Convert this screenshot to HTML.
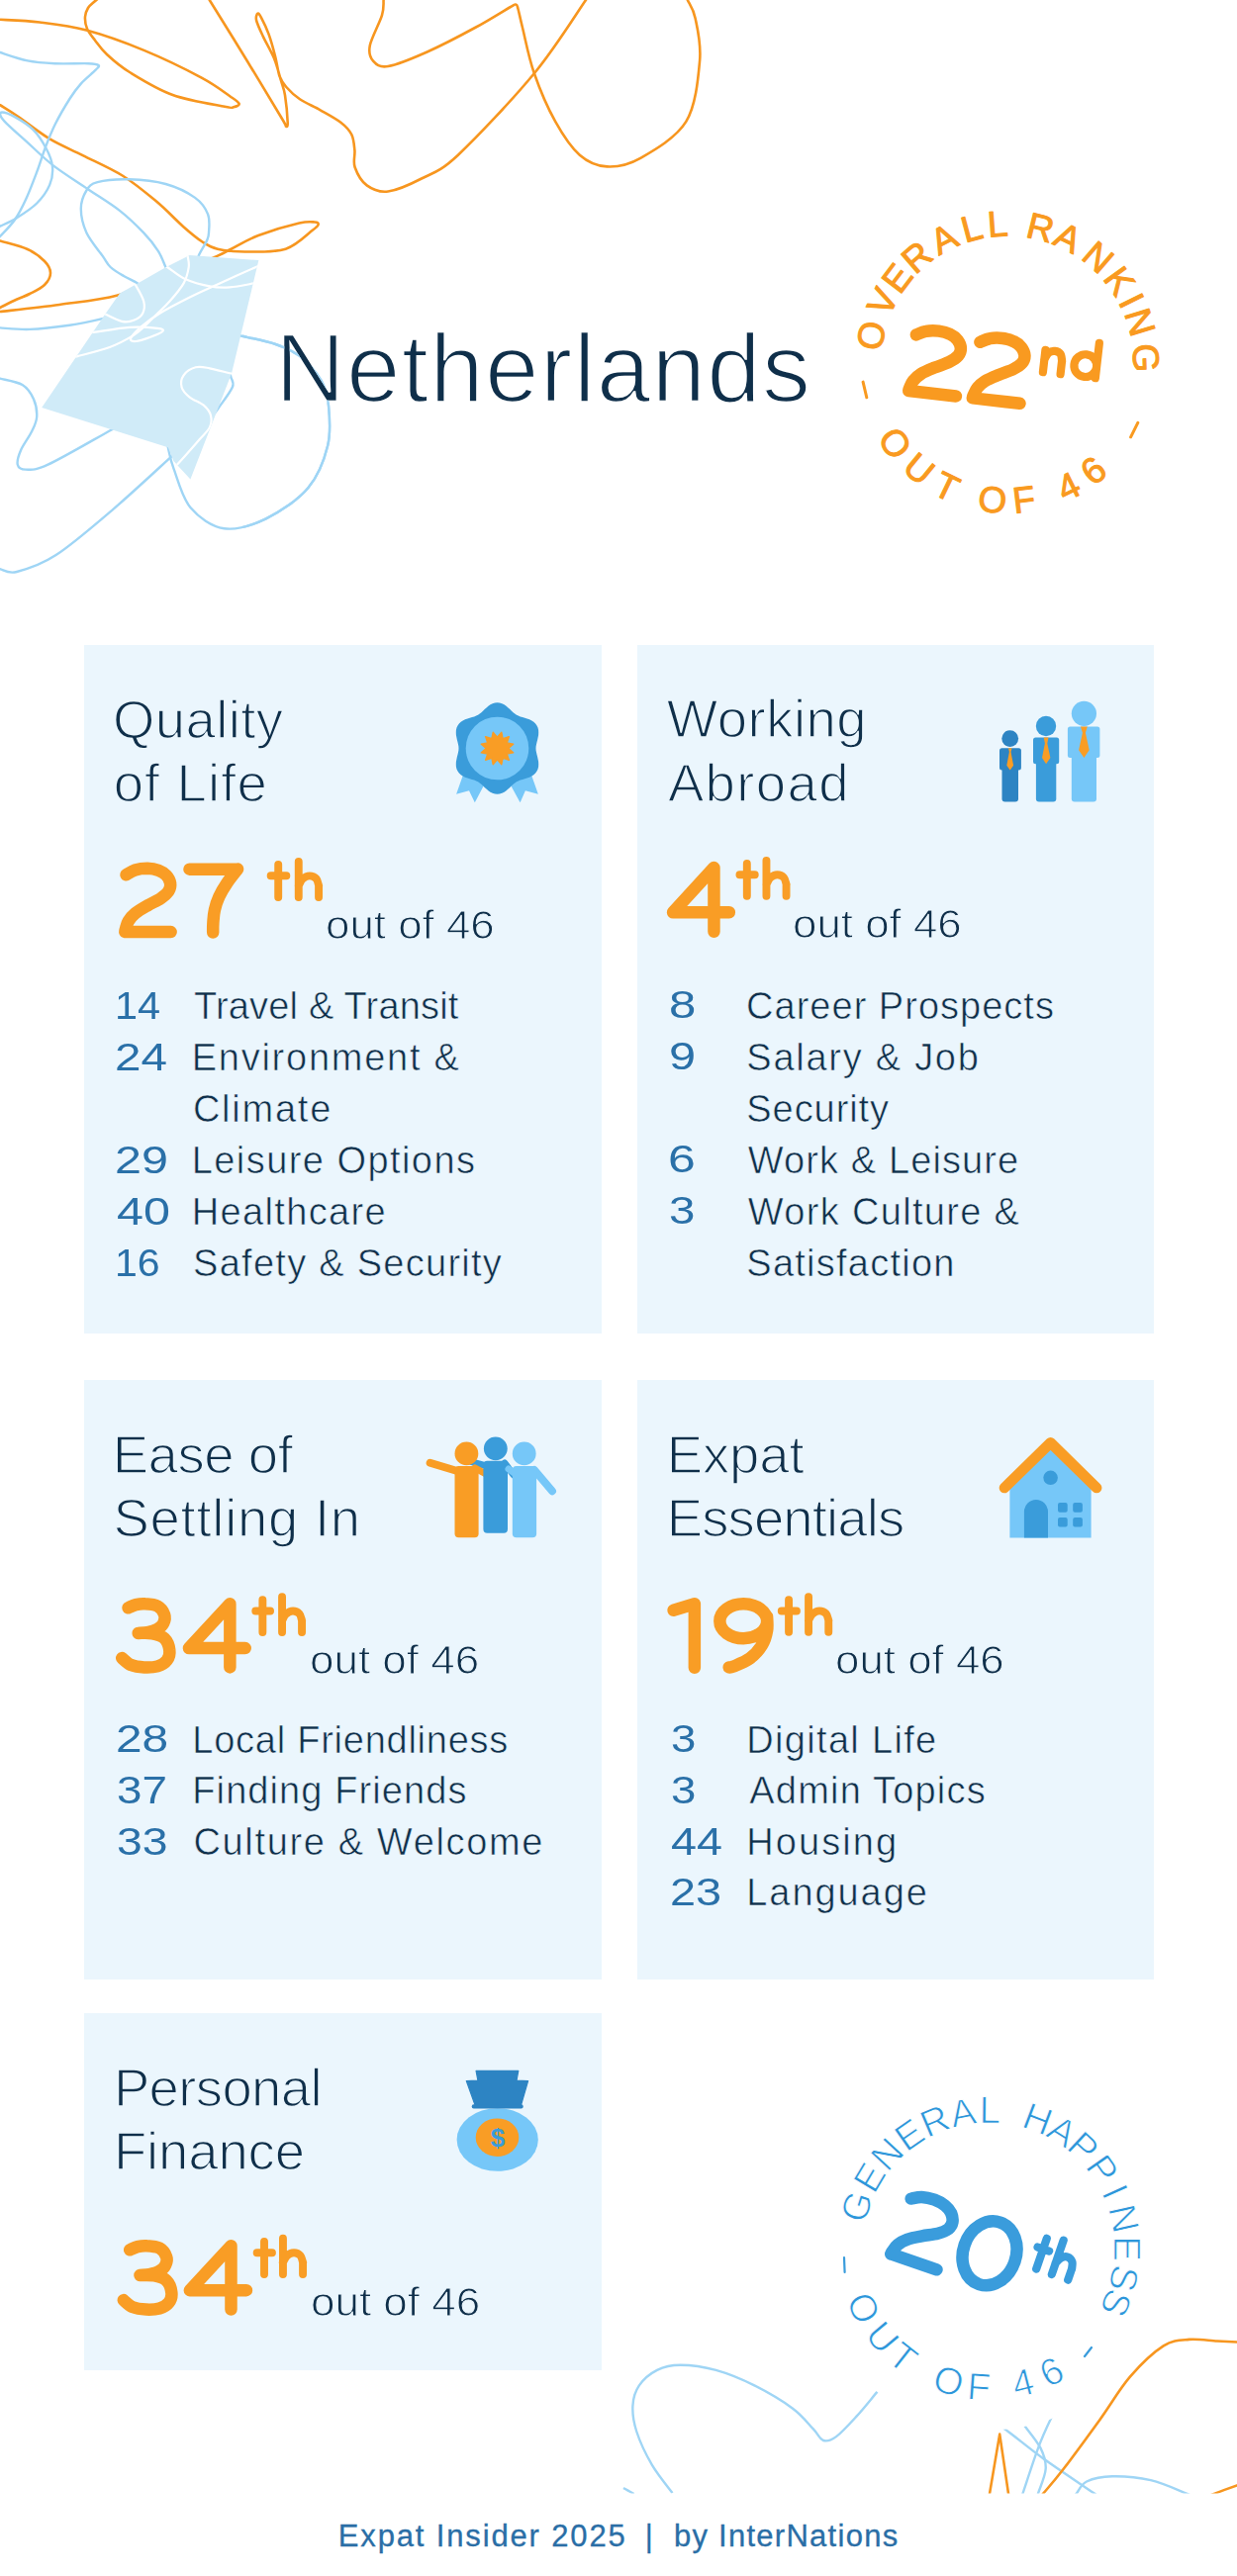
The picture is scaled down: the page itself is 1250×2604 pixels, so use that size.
<!DOCTYPE html>
<html><head><meta charset="utf-8"><style>
html,body{margin:0;padding:0}
body{width:1250px;height:2604px;background:#fff;position:relative;overflow:hidden;font-family:"Liberation Sans",sans-serif}
.t{position:absolute;white-space:pre;line-height:1}
.card{position:absolute;background:#ebf6fd}
svg{position:absolute;overflow:visible}
</style></head><body>

<svg style="left:0;top:0" width="1250" height="2604" viewBox="0 0 1250 2604">
<defs><clipPath id="pc"><path d="M191.7,258.1 L261.4,263.1 L234.1,377.3 L192.4,484.4 L175.4,466.0 L169.8,452.2 L42.2,412.0 L106.8,316.7 L121.0,296.5 L139.1,286.4 L167.4,270.2Z"/></clipPath>
<clipPath id="bc"><rect x="0" y="2300" width="1250" height="220.5"/></clipPath></defs>
<path d="M0.0,19.8 C6.7,20.2 25.5,20.7 40.0,22.5 C54.5,24.3 69.7,25.9 87.3,30.6 C104.9,35.3 126.1,42.9 145.5,50.9 C164.9,58.9 189.3,70.9 203.7,78.6 C218.1,86.3 225.7,92.6 232.0,97.0 C238.3,101.4 240.9,102.9 241.6,104.8 C242.3,106.7 238.4,107.7 236.0,108.2 C233.6,108.7 237.2,109.7 227.0,107.7 C216.8,105.7 190.6,101.8 174.6,96.0 C158.6,90.2 142.1,79.8 131.0,73.0 C119.9,66.2 113.8,60.4 108.0,55.0 C102.2,49.6 99.3,45.0 96.0,40.7 C92.7,36.4 89.7,33.0 88.0,29.0 C86.3,25.1 85.8,20.5 86.0,17.0 C86.2,13.5 87.5,10.5 89.0,8.0 C90.5,5.5 93.0,3.8 95.0,2.0 C97.0,0.2 100.0,-2.2 101.0,-3.0" fill="none" stroke="#f7961f" stroke-width="2.6"/>
<path d="M-3.0,104.0 C-2.5,104.4 -3.6,103.9 0.0,106.2 C3.6,108.5 10.2,112.4 18.6,118.1 C27.0,123.8 39.4,133.9 50.2,140.4 C61.1,146.9 71.5,150.9 83.7,157.1 C96.0,163.3 111.3,169.8 123.7,177.5 C136.1,185.2 147.6,194.9 158.0,203.6 C168.4,212.3 178.2,222.9 185.9,229.7 C193.7,236.5 198.8,240.8 204.5,244.5 C210.2,248.2 212.8,250.0 219.9,251.7 C227.1,253.4 235.9,254.5 247.4,254.5 C258.9,254.5 277.2,255.4 288.6,251.7 C300.1,248.0 310.6,236.6 316.1,232.5 C321.6,228.4 321.3,228.3 321.6,227.0 C321.9,225.7 321.2,224.7 318.0,224.5 C314.8,224.3 311.9,223.3 302.4,225.6 C292.9,227.8 272.6,233.7 261.1,238.0 C249.6,242.3 240.5,248.3 233.6,251.7 C226.7,255.1 229.7,254.2 219.9,258.6 C210.1,263.0 191.8,271.4 175.0,278.0 C158.2,284.6 138.1,293.5 118.9,298.5 C99.7,303.5 79.8,305.2 60.0,308.0 C40.2,310.8 10.5,313.8 0.0,315.0 C-10.5,316.2 -2.5,315.4 -3.0,315.5" fill="none" stroke="#f7961f" stroke-width="2.6"/>
<path d="M-3.0,242.5 C-2.5,242.7 -5.1,241.9 0.0,243.5 C5.1,245.1 20.4,248.6 27.9,252.0 C35.4,255.4 41.1,260.0 45.0,264.0 C48.9,268.0 51.0,272.0 51.0,276.0 C51.0,280.0 48.5,284.5 45.0,288.0 C41.5,291.5 35.2,294.3 30.0,297.0 C24.8,299.7 19.0,301.7 14.0,304.0 C9.0,306.3 2.8,309.7 0.0,311.0 C-2.8,312.3 -2.5,311.8 -3.0,312.0" fill="none" stroke="#f7961f" stroke-width="2.6"/>
<path d="M210.0,-3.0 C210.3,-2.5 205.0,-10.8 211.7,0.0 C218.4,10.8 237.8,42.0 250.0,62.0 C262.2,82.0 278.5,109.1 285.0,120.0 C291.5,130.9 288.1,126.9 289.0,127.5 C289.9,128.1 290.9,128.9 290.7,123.7 C290.5,118.5 289.1,103.3 288.0,96.2 C286.9,89.1 285.6,87.2 283.8,81.0 C282.0,74.8 280.0,66.3 277.0,59.0 C274.0,51.7 269.0,43.5 266.0,37.1 C263.0,30.7 260.0,24.5 259.1,20.6 C258.2,16.7 259.7,14.2 260.5,13.7 C261.3,13.2 262.2,14.4 264.0,17.9 C265.8,21.3 269.1,27.8 271.5,34.4 C273.9,41.0 276.5,50.6 278.3,57.7 C280.1,64.8 280.7,72.0 282.5,77.0 C284.3,82.0 285.9,84.1 289.3,88.0 C292.7,91.9 297.3,96.4 303.0,100.3 C308.7,104.2 316.8,107.4 323.7,111.3 C330.6,115.2 339.0,119.6 344.3,123.7 C349.6,127.8 353.0,131.3 355.3,136.0 C357.6,140.7 357.8,146.5 358.4,152.0 C358.9,157.5 356.6,163.1 358.6,169.0 C360.7,174.9 365.1,183.3 370.7,187.4 C376.3,191.5 383.0,194.7 392.2,193.5 C401.4,192.3 414.2,186.6 426.0,180.5 C437.8,174.4 443.9,174.4 462.9,156.7 C481.9,138.9 518.5,100.1 540.0,74.0 C561.5,47.9 583.0,12.8 592.0,0.0 C601.0,-12.8 593.7,-2.5 594.0,-3.0" fill="none" stroke="#f7961f" stroke-width="2.6"/>
<path d="M388.0,-3.0 C387.9,-2.5 387.9,-3.1 387.6,0.0 C387.3,3.1 388.3,7.7 386.0,15.4 C383.7,23.1 375.3,38.3 373.8,46.0 C372.3,53.7 373.8,57.9 376.9,61.4 C380.0,64.9 383.0,68.5 392.2,67.0 C401.4,65.5 417.6,58.7 432.2,52.2 C446.8,45.7 466.2,35.5 480.0,28.0 C493.8,20.6 508.1,11.4 515.0,7.5 C521.9,3.6 519.9,4.3 521.3,4.6 C522.7,4.8 522.4,5.1 523.5,9.0 C524.6,12.9 525.3,17.2 528.0,28.0 C530.7,38.8 534.2,57.9 539.7,73.7 C545.2,89.5 553.5,109.1 561.2,122.9 C568.9,136.7 577.1,149.1 585.8,156.7 C594.5,164.3 603.2,167.9 613.4,168.4 C623.6,168.9 633.9,167.4 647.2,159.8 C660.5,152.2 683.3,139.3 693.3,122.9 C703.3,106.5 705.5,78.8 707.1,61.4 C708.7,44.0 704.7,28.6 702.6,18.4 C700.5,8.2 696.3,3.6 694.8,0.0 C693.3,-3.6 693.7,-2.5 693.5,-3.0" fill="none" stroke="#f7961f" stroke-width="2.6"/>
<path d="M-3.0,52.0 C-2.5,52.2 -5.1,51.4 0.0,53.0 C5.1,54.6 18.6,59.5 27.9,61.4 C37.2,63.3 45.6,63.7 55.8,64.2 C66.0,64.7 82.0,63.9 89.3,64.2 C96.6,64.5 98.3,64.9 99.5,66.0 C100.7,67.1 99.7,67.6 96.7,70.7 C93.8,73.8 86.1,79.8 81.8,84.6 C77.5,89.4 75.0,92.7 70.7,99.5 C66.4,106.3 60.0,117.1 55.8,125.5 C51.6,133.9 48.7,141.6 45.6,149.7 C42.5,157.8 40.5,165.2 37.2,173.9 C33.9,182.6 29.7,193.8 26.0,201.8 C22.3,209.9 19.2,216.0 14.9,222.2 C10.6,228.4 3.0,235.7 0.0,239.0 C-3.0,242.3 -2.5,241.5 -3.0,242.0" fill="none" stroke="#9fd5f5" stroke-width="2.4"/>
<path d="M-3.0,230.0 C-2.5,229.8 -3.3,230.3 0.0,228.7 C3.3,227.1 10.5,224.3 16.7,220.4 C22.9,216.5 31.6,211.1 37.2,205.5 C42.8,199.9 47.6,193.1 50.2,186.9 C52.8,180.7 53.6,174.5 53.0,168.3 C52.4,162.1 49.8,155.9 46.5,149.7 C43.2,143.5 38.8,136.4 33.5,131.1 C28.2,125.8 20.1,121.0 14.9,118.1 C9.7,115.2 4.3,113.5 2.0,113.5 C-0.3,113.5 -0.2,115.7 1.0,118.0 C2.2,120.3 4.8,123.1 9.3,127.4 C13.8,131.8 20.5,137.4 27.9,144.1 C35.3,150.8 43.7,159.5 53.9,167.4 C64.1,175.3 78.1,183.9 89.3,191.5 C100.5,199.1 111.6,205.6 120.9,212.9 C130.2,220.2 138.5,228.4 145.0,235.2 C151.5,242.0 156.2,248.0 159.9,253.8 C163.6,259.6 165.7,266.5 167.4,270.0 C169.1,273.5 169.6,274.2 170.0,275.0" fill="none" stroke="#9fd5f5" stroke-width="2.4"/>
<path d="M203.0,262.0 C202.6,261.4 199.7,261.7 200.7,258.6 C201.7,255.5 207.2,247.4 208.9,243.5 C210.6,239.6 210.8,239.7 211.0,235.2 C211.2,230.7 212.4,222.5 210.1,216.6 C207.8,210.7 204.2,205.0 197.1,199.9 C190.0,194.8 178.6,189.1 167.4,186.0 C156.2,182.9 141.7,181.6 130.2,181.3 C118.7,181.0 105.6,182.2 98.5,184.1 C91.4,186.0 90.2,188.0 87.4,192.5 C84.6,197.0 81.8,204.0 81.8,211.1 C81.8,218.2 83.7,227.1 87.4,235.2 C91.1,243.2 100.1,253.6 104.1,259.4 C108.1,265.2 108.1,266.7 111.6,270.0 C115.1,273.3 120.4,276.3 125.0,279.0 C129.6,281.7 135.8,284.2 139.1,286.4 C142.4,288.6 144.0,291.1 145.0,292.0" fill="none" stroke="#9fd5f5" stroke-width="2.4"/>
<path d="M-3.0,331.3 C-2.5,331.3 -5.5,331.1 0.0,331.4 C5.5,331.7 18.3,333.3 30.0,332.9 C41.7,332.5 58.0,330.6 70.4,328.8 C82.8,327.0 97.1,323.6 104.5,321.8 C111.9,320.0 113.2,318.6 115.0,318.0" fill="none" stroke="#9fd5f5" stroke-width="2.4"/>
<path d="M-3.0,382.0 C-2.5,382.1 -4.3,381.4 0.0,382.6 C4.3,383.8 16.9,385.5 22.6,389.0 C28.3,392.5 31.6,398.0 34.0,403.4 C36.4,408.8 37.5,415.8 37.2,421.2 C36.9,426.6 35.0,430.1 32.3,435.8 C29.6,441.5 23.4,449.6 21.0,455.2 C18.6,460.8 17.0,466.5 17.8,469.7 C18.6,472.9 20.8,474.6 25.9,474.6 C31.0,474.6 33.9,476.4 48.5,469.7 C63.1,463.0 98.0,442.5 113.2,434.2 C128.4,425.9 135.5,422.4 140.0,420.0" fill="none" stroke="#9fd5f5" stroke-width="2.4"/>
<path d="M-3.0,575.0 C-2.5,575.0 -3.3,574.7 0.0,575.2 C3.3,575.7 7.6,580.4 17.0,578.0 C26.4,575.6 40.6,571.5 56.6,561.1 C72.6,550.7 93.9,532.3 113.2,515.8 C132.5,499.3 161.5,472.2 172.6,462.1 C183.7,452.0 178.8,456.2 180.0,455.0" fill="none" stroke="#9fd5f5" stroke-width="2.4"/>
<path d="M235.0,338.0 C236.4,338.2 236.1,337.8 243.3,339.5 C250.6,341.2 268.6,344.6 278.5,348.0 C288.4,351.4 295.1,354.1 302.8,360.1 C310.5,366.2 319.7,376.0 324.6,384.3 C329.5,392.6 330.9,398.9 332.0,410.0 C333.1,421.1 334.6,436.8 331.1,450.7 C327.7,464.6 321.7,480.9 311.3,493.2 C300.9,505.5 282.9,517.5 268.8,524.3 C254.7,531.1 239.1,536.1 226.4,534.2 C213.7,532.3 200.9,523.1 192.4,513.0 C183.9,502.9 179.2,483.5 175.4,473.4 C171.6,463.3 171.0,456.9 169.8,452.2 C168.6,447.5 168.3,446.2 168.0,445.0" fill="none" stroke="#9fd5f5" stroke-width="2.4"/>
<path d="M215.0,420.0 C215.9,418.8 217.4,417.3 220.7,412.5 C224.0,407.7 232.8,396.5 234.9,391.3 C237.0,386.1 233.9,383.8 233.4,381.4 C232.9,379.0 232.2,377.7 232.0,377.0" fill="none" stroke="#9fd5f5" stroke-width="2.4"/>
<path d="M191.7,258.1 L261.4,263.1 L234.1,377.3 L192.4,484.4 L175.4,466.0 L169.8,452.2 L42.2,412.0 L106.8,316.7 L121.0,296.5 L139.1,286.4 L167.4,270.2Z" fill="#d0ebf8"/>
<g clip-path="url(#pc)">
<path d="M167.4,270.0 C167.7,270.0 166.0,268.1 169.4,270.2 C172.8,272.2 180.5,279.1 187.6,282.3 C194.7,285.5 204.5,288.0 211.9,289.4 C219.3,290.8 224.7,290.9 232.1,290.4 C239.5,289.9 251.4,287.3 256.4,286.4 C261.4,285.5 261.1,285.2 262.0,285.0" fill="none" stroke="#fff" stroke-width="2.2"/>
<path d="M189.0,256.0 C189.1,256.5 189.4,256.7 189.7,259.1 C190.0,261.5 191.4,265.6 190.7,270.2 C190.0,274.8 188.8,280.7 185.6,286.4 C182.4,292.1 175.9,299.6 171.5,304.6 C167.1,309.7 163.4,312.7 159.3,316.7 C155.2,320.7 151.2,325.1 147.2,328.8 C143.2,332.5 141.2,335.2 135.1,338.9 C129.0,342.6 120.2,347.5 110.8,351.0 C101.4,354.5 85.3,358.3 78.5,360.1 C71.7,361.9 71.4,361.7 70.0,362.0" fill="none" stroke="#fff" stroke-width="2.2"/>
<path d="M265.0,267.0 C264.2,267.4 267.6,266.0 260.4,269.2 C253.2,272.4 233.4,281.2 222.0,286.4 C210.6,291.6 201.8,295.4 191.7,300.5 C181.6,305.6 169.5,311.8 161.4,316.7 C153.3,321.6 148.1,325.6 143.2,329.8 C138.3,334.0 133.1,339.5 132.1,342.0 C131.1,344.5 133.9,345.2 137.1,345.0 C140.3,344.8 146.8,342.7 151.3,341.0 C155.9,339.3 163.1,336.4 164.4,334.9 C165.7,333.4 164.9,332.6 159.3,331.9 C153.7,331.2 141.8,330.1 131.0,330.8 C120.2,331.5 102.4,334.9 94.7,335.9 C87.0,336.9 86.6,336.8 85.0,337.0" fill="none" stroke="#fff" stroke-width="2.2"/>
<path d="M133.0,284.0 C133.7,284.7 135.1,285.0 137.1,288.4 C139.1,291.8 144.0,299.9 145.2,304.6 C146.4,309.3 145.9,313.5 144.2,316.7 C142.5,319.9 138.6,322.4 135.1,323.8 C131.6,325.2 127.7,325.8 123.0,324.8 C118.3,323.8 110.6,319.5 106.8,317.7 C103.0,315.9 101.1,314.6 100.0,314.0" fill="none" stroke="#fff" stroke-width="2.2"/>
<path d="M235.0,378.0 C234.5,377.9 235.9,378.2 232.1,377.3 C228.2,376.4 217.6,373.3 211.9,372.3 C206.2,371.3 202.1,370.1 197.7,371.3 C193.3,372.5 187.9,375.9 185.6,379.3 C183.2,382.7 182.6,387.8 183.6,391.5 C184.6,395.2 188.0,398.6 191.7,401.6 C195.4,404.6 202.3,406.7 205.8,409.7 C209.3,412.7 211.9,416.1 212.9,419.8 C213.9,423.5 213.8,427.9 211.9,431.9 C210.1,435.9 205.9,439.3 201.8,444.0 C197.8,448.7 191.7,455.6 187.6,460.2 C183.5,464.8 180.1,468.3 177.5,471.3 C174.9,474.3 172.9,476.9 172.0,478.0" fill="none" stroke="#fff" stroke-width="2.2"/>
</g>
<g clip-path="url(#bc)">
<path d="M679.5,2520.0 C676.0,2515.3 664.8,2501.9 658.8,2491.6 C652.8,2481.3 646.5,2467.9 643.3,2458.0 C640.1,2448.1 639.0,2439.9 639.4,2432.1 C639.8,2424.3 641.8,2417.4 645.9,2411.4 C650.0,2405.4 657.1,2399.4 664.0,2395.9 C670.9,2392.4 677.4,2390.7 687.3,2390.7 C697.2,2390.7 711.0,2392.4 723.5,2395.9 C736.0,2399.4 749.4,2404.9 762.3,2411.4 C775.2,2417.9 791.2,2427.4 801.1,2434.7 C811.0,2442.0 816.6,2450.0 821.8,2455.4 C827.0,2460.8 828.2,2465.7 832.1,2467.0 C836.0,2468.3 839.4,2467.2 845.0,2463.1 C850.6,2459.0 858.8,2449.9 865.7,2442.4 C872.6,2434.9 880.7,2424.6 886.4,2417.9 C892.1,2411.2 897.7,2404.7 900.0,2402.0" fill="none" stroke="#9fd5f5" stroke-width="2.4"/>
<path d="M630.0,2515.0 C630.7,2515.4 632.4,2516.4 634.2,2517.4 C636.0,2518.4 639.6,2520.4 640.7,2521.0" fill="none" stroke="#9fd5f5" stroke-width="2.4"/>
<path d="M1000.0,2448.0 C1002.6,2449.2 1006.4,2449.3 1015.4,2455.5 C1024.4,2461.7 1039.1,2474.3 1054.2,2485.2 C1069.3,2496.0 1096.6,2514.1 1105.9,2520.6 C1115.2,2527.1 1109.3,2523.4 1110.0,2524.0" fill="none" stroke="#9fd5f5" stroke-width="2.4"/>
<path d="M1025.0,2440.0 C1026.6,2441.9 1030.4,2445.8 1034.8,2451.6 C1039.2,2457.4 1047.9,2467.6 1051.6,2474.9 C1055.2,2482.2 1057.1,2487.9 1056.7,2495.5 C1056.3,2503.1 1050.5,2515.8 1049.0,2520.6 C1047.5,2525.3 1048.2,2523.4 1048.0,2524.0" fill="none" stroke="#9fd5f5" stroke-width="2.4"/>
<path d="M1068.0,2435.0 C1067.0,2436.7 1065.1,2438.4 1061.9,2445.1 C1058.7,2451.8 1053.7,2462.3 1049.0,2474.9 C1044.3,2487.5 1036.3,2512.4 1033.5,2520.6 C1030.7,2528.8 1032.2,2523.4 1032.0,2524.0" fill="none" stroke="#9fd5f5" stroke-width="2.4"/>
<path d="M1085.0,2524.0 C1085.5,2523.4 1085.6,2523.2 1087.8,2520.6 C1090.0,2518.0 1092.1,2511.4 1098.1,2508.5 C1104.1,2505.6 1113.2,2503.5 1124.0,2503.3 C1134.8,2503.1 1150.3,2504.3 1162.8,2507.2 C1175.3,2510.1 1192.0,2517.8 1199.0,2520.6 C1206.0,2523.4 1204.0,2523.4 1205.0,2524.0" fill="none" stroke="#9fd5f5" stroke-width="2.4"/>
<path d="M1050.0,2525.0 C1050.7,2524.3 1050.0,2525.5 1054.2,2520.6 C1058.4,2515.7 1065.4,2507.9 1074.9,2495.5 C1084.4,2483.1 1099.9,2461.9 1111.1,2446.4 C1122.3,2430.9 1131.3,2414.9 1142.1,2402.4 C1152.9,2389.9 1165.8,2377.7 1175.7,2371.4 C1185.6,2365.2 1192.5,2365.7 1201.6,2364.9 C1210.6,2364.1 1221.9,2366.1 1230.0,2366.5 C1238.1,2366.9 1246.2,2367.3 1250.0,2367.5 C1253.8,2367.7 1252.5,2367.5 1253.0,2367.5" fill="none" stroke="#f7961f" stroke-width="2.6"/>
<path d="M1220.0,2524.0 C1221.2,2523.4 1222.5,2522.5 1227.5,2520.6 C1232.5,2518.7 1245.8,2513.9 1250.0,2512.4 C1254.2,2510.9 1252.5,2511.7 1253.0,2511.5" fill="none" stroke="#f7961f" stroke-width="2.6"/>
<path d="M999.8,2522 L1010.2,2460.6 L1019.2,2522" fill="none" stroke="#f7961f" stroke-width="2.6" stroke-linejoin="round"/>
</g>
<circle cx="999" cy="2273" r="183.5" fill="#fff"/>
</svg>
<div class="card" style="left:85px;top:652px;width:523px;height:696px"></div>
<div class="card" style="left:644px;top:652px;width:522px;height:696px"></div>
<div class="card" style="left:85px;top:1395px;width:523px;height:606px"></div>
<div class="card" style="left:644px;top:1395px;width:522px;height:606px"></div>
<div class="card" style="left:85px;top:2035px;width:523px;height:361px"></div>
<svg style="left:0;top:0" width="1250" height="2604" viewBox="0 0 1250 2604"><defs><mask id="tm" maskUnits="userSpaceOnUse" x="0" y="0" width="1250" height="700"><rect x="245" y="0" width="1005" height="700" fill="#fff"/><text x="278.0" y="405.9" font-family="Liberation Sans" font-size="98" letter-spacing="1.27" fill="#000" stroke="#fff" stroke-width="2.4">Netherlands</text></mask></defs><text x="278.0" y="405.9" font-family="Liberation Sans" font-size="98" letter-spacing="1.27" fill="#0f2f4a" stroke="#fff" stroke-width="2.4">Netherlands</text><path d="M235.0,338.0 C236.4,338.2 236.1,337.8 243.3,339.5 C250.6,341.2 268.6,344.6 278.5,348.0 C288.4,351.4 295.1,354.1 302.8,360.1 C310.5,366.2 319.7,376.0 324.6,384.3 C329.5,392.6 330.9,398.9 332.0,410.0 C333.1,421.1 334.6,436.8 331.1,450.7 C327.7,464.6 321.7,480.9 311.3,493.2 C300.9,505.5 282.9,517.5 268.8,524.3 C254.7,531.1 239.1,536.1 226.4,534.2 C213.7,532.3 200.9,523.1 192.4,513.0 C183.9,502.9 179.2,483.5 175.4,473.4 C171.6,463.3 171.0,456.9 169.8,452.2 C168.6,447.5 168.3,446.2 168.0,445.0" fill="none" stroke="#9fd5f5" stroke-width="2.4" mask="url(#tm)"/></svg>
<div class="t" style="left:113.9px;top:701.0px;font-size:54.5px;color:#0f2f4a;letter-spacing:0.43px;-webkit-text-stroke:1.5px #ebf6fd;">Quality</div>
<div class="t" style="left:114.7px;top:765.0px;font-size:54.5px;color:#0f2f4a;letter-spacing:1.11px;-webkit-text-stroke:1.5px #ebf6fd;">of Life</div>
<div class="t" style="left:673.8px;top:700.3px;font-size:54.5px;color:#0f2f4a;letter-spacing:0.48px;-webkit-text-stroke:1.5px #ebf6fd;">Working</div>
<div class="t" style="left:674.9px;top:764.7px;font-size:54.5px;color:#0f2f4a;letter-spacing:1.38px;-webkit-text-stroke:1.5px #ebf6fd;">Abroad</div>
<div class="t" style="left:113.7px;top:1443.9px;font-size:54.5px;color:#0f2f4a;letter-spacing:-0.44px;-webkit-text-stroke:1.5px #ebf6fd;">Ease of</div>
<div class="t" style="left:114.5px;top:1508.2px;font-size:54.5px;color:#0f2f4a;letter-spacing:0.73px;-webkit-text-stroke:1.5px #ebf6fd;">Settling In</div>
<div class="t" style="left:673.7px;top:1443.9px;font-size:54.5px;color:#0f2f4a;letter-spacing:-0.10px;-webkit-text-stroke:1.5px #ebf6fd;">Expat</div>
<div class="t" style="left:673.7px;top:1508.2px;font-size:54.5px;color:#0f2f4a;letter-spacing:-0.88px;-webkit-text-stroke:1.5px #ebf6fd;">Essentials</div>
<div class="t" style="left:114.9px;top:2083.9px;font-size:54.5px;color:#0f2f4a;letter-spacing:-0.63px;-webkit-text-stroke:1.5px #ebf6fd;">Personal</div>
<div class="t" style="left:114.9px;top:2148.2px;font-size:54.5px;color:#0f2f4a;letter-spacing:-0.12px;-webkit-text-stroke:1.5px #ebf6fd;">Finance</div>
<div class="t" style="left:329.2px;top:915.2px;font-size:40px;color:#0f2f4a;transform:scaleX(1.0969);transform-origin:0 0;-webkit-text-stroke:1.0px #ebf6fd;">out of 46</div>
<div class="t" style="left:801.2px;top:913.9px;font-size:40px;color:#0f2f4a;transform:scaleX(1.0969);transform-origin:0 0;-webkit-text-stroke:1.0px #ebf6fd;">out of 46</div>
<div class="t" style="left:312.8px;top:1657.9px;font-size:40px;color:#0f2f4a;transform:scaleX(1.0995);transform-origin:0 0;-webkit-text-stroke:1.0px #ebf6fd;">out of 46</div>
<div class="t" style="left:844.2px;top:1657.9px;font-size:40px;color:#0f2f4a;transform:scaleX(1.0969);transform-origin:0 0;-webkit-text-stroke:1.0px #ebf6fd;">out of 46</div>
<div class="t" style="left:313.8px;top:2306.7px;font-size:40px;color:#0f2f4a;transform:scaleX(1.0995);transform-origin:0 0;-webkit-text-stroke:1.0px #ebf6fd;">out of 46</div>
<div class="t" style="left:115.5px;top:997.8px;font-size:38px;color:#2a70a8;transform:scaleX(1.0899);transform-origin:0 0;">14</div>
<div class="t" style="left:195.9px;top:998.1px;font-size:38px;color:#0f2f4a;letter-spacing:0.19px;-webkit-text-stroke:0.6px #ebf6fd;">Travel &amp; Transit</div>
<div class="t" style="left:116.3px;top:1049.8px;font-size:38px;color:#2a70a8;transform:scaleX(1.2537);transform-origin:0 0;">24</div>
<div class="t" style="left:193.7px;top:1050.0px;font-size:38px;color:#0f2f4a;letter-spacing:1.75px;-webkit-text-stroke:0.6px #ebf6fd;">Environment &amp;</div>
<div class="t" style="left:194.9px;top:1102.0px;font-size:38px;color:#0f2f4a;letter-spacing:1.77px;-webkit-text-stroke:0.6px #ebf6fd;">Climate</div>
<div class="t" style="left:116.3px;top:1153.7px;font-size:38px;color:#2a70a8;transform:scaleX(1.2760);transform-origin:0 0;">29</div>
<div class="t" style="left:193.7px;top:1153.9px;font-size:38px;color:#0f2f4a;letter-spacing:1.44px;-webkit-text-stroke:0.6px #ebf6fd;">Leisure Options</div>
<div class="t" style="left:117.6px;top:1205.6px;font-size:38px;color:#2a70a8;transform:scaleX(1.2753);transform-origin:0 0;">40</div>
<div class="t" style="left:193.7px;top:1205.9px;font-size:38px;color:#0f2f4a;letter-spacing:1.36px;-webkit-text-stroke:0.6px #ebf6fd;">Healthcare</div>
<div class="t" style="left:115.6px;top:1257.6px;font-size:38px;color:#2a70a8;transform:scaleX(1.0795);transform-origin:0 0;">16</div>
<div class="t" style="left:195.1px;top:1257.8px;font-size:38px;color:#0f2f4a;letter-spacing:1.27px;-webkit-text-stroke:0.6px #ebf6fd;">Safety &amp; Security</div>
<div class="t" style="left:675.8px;top:997.2px;font-size:38px;color:#2a70a8;transform:scaleX(1.2899);transform-origin:0 0;">8</div>
<div class="t" style="left:754.1px;top:997.5px;font-size:38px;color:#0f2f4a;letter-spacing:1.01px;-webkit-text-stroke:0.6px #ebf6fd;">Career Prospects</div>
<div class="t" style="left:675.6px;top:1049.2px;font-size:38px;color:#2a70a8;transform:scaleX(1.2819);transform-origin:0 0;">9</div>
<div class="t" style="left:754.3px;top:1049.5px;font-size:38px;color:#0f2f4a;letter-spacing:1.74px;-webkit-text-stroke:0.6px #ebf6fd;">Salary &amp; Job</div>
<div class="t" style="left:754.3px;top:1101.5px;font-size:38px;color:#0f2f4a;letter-spacing:0.93px;-webkit-text-stroke:0.6px #ebf6fd;">Security</div>
<div class="t" style="left:675.4px;top:1153.2px;font-size:38px;color:#2a70a8;transform:scaleX(1.3117);transform-origin:0 0;">6</div>
<div class="t" style="left:755.8px;top:1153.5px;font-size:38px;color:#0f2f4a;letter-spacing:1.10px;-webkit-text-stroke:0.6px #ebf6fd;">Work &amp; Leisure</div>
<div class="t" style="left:676.1px;top:1205.2px;font-size:38px;color:#2a70a8;transform:scaleX(1.2488);transform-origin:0 0;">3</div>
<div class="t" style="left:755.8px;top:1205.5px;font-size:38px;color:#0f2f4a;letter-spacing:1.32px;-webkit-text-stroke:0.6px #ebf6fd;">Work Culture &amp;</div>
<div class="t" style="left:754.3px;top:1257.5px;font-size:38px;color:#0f2f4a;letter-spacing:1.25px;-webkit-text-stroke:0.6px #ebf6fd;">Satisfaction</div>
<div class="t" style="left:116.9px;top:1739.3px;font-size:38px;color:#2a70a8;transform:scaleX(1.2582);transform-origin:0 0;">28</div>
<div class="t" style="left:194.3px;top:1739.6px;font-size:38px;color:#0f2f4a;letter-spacing:0.75px;-webkit-text-stroke:0.6px #ebf6fd;">Local Friendliness</div>
<div class="t" style="left:117.6px;top:1790.9px;font-size:38px;color:#2a70a8;transform:scaleX(1.2054);transform-origin:0 0;">37</div>
<div class="t" style="left:194.3px;top:1791.2px;font-size:38px;color:#0f2f4a;letter-spacing:1.09px;-webkit-text-stroke:0.6px #ebf6fd;">Finding Friends</div>
<div class="t" style="left:117.5px;top:1842.5px;font-size:38px;color:#2a70a8;transform:scaleX(1.2184);transform-origin:0 0;">33</div>
<div class="t" style="left:195.5px;top:1842.8px;font-size:38px;color:#0f2f4a;letter-spacing:1.64px;-webkit-text-stroke:0.6px #ebf6fd;">Culture &amp; Welcome</div>
<div class="t" style="left:677.6px;top:1739.3px;font-size:38px;color:#2a70a8;transform:scaleX(1.1989);transform-origin:0 0;">3</div>
<div class="t" style="left:754.3px;top:1739.6px;font-size:38px;color:#0f2f4a;letter-spacing:1.32px;-webkit-text-stroke:0.6px #ebf6fd;">Digital Life</div>
<div class="t" style="left:677.6px;top:1790.9px;font-size:38px;color:#2a70a8;transform:scaleX(1.1989);transform-origin:0 0;">3</div>
<div class="t" style="left:757.3px;top:1791.2px;font-size:38px;color:#0f2f4a;letter-spacing:1.19px;-webkit-text-stroke:0.6px #ebf6fd;">Admin Topics</div>
<div class="t" style="left:678.2px;top:1842.5px;font-size:38px;color:#2a70a8;transform:scaleX(1.2288);transform-origin:0 0;">44</div>
<div class="t" style="left:754.3px;top:1842.8px;font-size:38px;color:#0f2f4a;letter-spacing:2.06px;-webkit-text-stroke:0.6px #ebf6fd;">Housing</div>
<div class="t" style="left:676.9px;top:1894.1px;font-size:38px;color:#2a70a8;transform:scaleX(1.2330);transform-origin:0 0;">23</div>
<div class="t" style="left:754.3px;top:1894.4px;font-size:38px;color:#0f2f4a;letter-spacing:1.93px;-webkit-text-stroke:0.6px #ebf6fd;">Language</div>
<div class="t" style="left:341.8px;top:2547.6px;font-size:31px;color:#2a6ea6;letter-spacing:1.85px;-webkit-text-stroke:0.3px #2a6ea6;">Expat Insider 2025</div>
<div class="t" style="left:651.7px;top:2547.6px;font-size:31px;color:#2a6ea6;-webkit-text-stroke:0.3px #2a6ea6;">|</div>
<div class="t" style="left:680.9px;top:2547.6px;font-size:31px;color:#2a6ea6;letter-spacing:1.27px;-webkit-text-stroke:0.3px #2a6ea6;">by InterNations</div>
<svg style="left:0;top:0" width="1250" height="2604" viewBox="0 0 1250 2604">
<path d="M469.5,779.0 L491.0,790.0 L479.8,811.2 L474.0,799.2 L461.1,802.7Z" fill="#76c7f8"/>
<path d="M535.5,779.0 L514.0,790.0 L525.6,811.2 L530.9,799.2 L543.8,802.7Z" fill="#76c7f8"/>
<path d="M541.5,756.5 L541.6,758.6 L542.0,760.6 L542.5,762.8 L543.1,765.1 L543.6,767.5 L544.1,770.0 L544.2,772.5 L544.1,775.0 L543.5,777.4 L542.5,779.6 L541.1,781.6 L539.3,783.3 L537.3,784.6 L535.0,785.7 L532.6,786.6 L530.3,787.3 L528.0,788.0 L525.8,788.6 L523.8,789.4 L522.0,790.3 L520.3,791.4 L518.6,792.8 L517.0,794.3 L515.3,796.0 L513.5,797.6 L511.6,799.3 L509.5,800.7 L507.3,801.8 L504.9,802.5 L502.5,802.7 L500.1,802.5 L497.7,801.8 L495.5,800.7 L493.4,799.3 L491.5,797.6 L489.7,796.0 L488.0,794.3 L486.4,792.8 L484.7,791.4 L483.0,790.3 L481.2,789.4 L479.2,788.6 L477.0,788.0 L474.7,787.3 L472.4,786.6 L470.0,785.7 L467.7,784.6 L465.7,783.3 L463.9,781.6 L462.5,779.6 L461.5,777.4 L460.9,775.0 L460.8,772.5 L460.9,770.0 L461.4,767.5 L461.9,765.1 L462.5,762.8 L463.0,760.6 L463.4,758.6 L463.5,756.5 L463.4,754.4 L463.0,752.4 L462.5,750.2 L461.9,747.9 L461.4,745.5 L460.9,743.0 L460.8,740.5 L460.9,738.0 L461.5,735.6 L462.5,733.4 L463.9,731.4 L465.7,729.7 L467.7,728.4 L470.0,727.3 L472.4,726.4 L474.7,725.7 L477.0,725.0 L479.2,724.4 L481.2,723.6 L483.0,722.7 L484.7,721.6 L486.4,720.2 L488.0,718.7 L489.7,717.0 L491.5,715.4 L493.4,713.7 L495.5,712.3 L497.7,711.2 L500.1,710.5 L502.5,710.3 L504.9,710.5 L507.3,711.2 L509.5,712.3 L511.6,713.7 L513.5,715.4 L515.3,717.0 L517.0,718.7 L518.6,720.2 L520.3,721.6 L522.0,722.7 L523.8,723.6 L525.8,724.4 L528.0,725.0 L530.3,725.7 L532.6,726.4 L535.0,727.3 L537.3,728.4 L539.3,729.7 L541.1,731.4 L542.5,733.4 L543.5,735.6 L544.1,738.0 L544.2,740.5 L544.1,743.0 L543.6,745.5 L543.1,747.9 L542.5,750.2 L542.0,752.4 L541.6,754.4Z" fill="#3a9cda"/>
<circle cx="502.5" cy="756.5" r="31.8" fill="#76c7f8"/>
<path d="M498.2,740.3 L502.5,745.2 L506.8,740.3 L508.1,746.7 L514.4,744.6 L512.3,750.9 L518.7,752.2 L513.8,756.5 L518.7,760.8 L512.3,762.1 L514.4,768.4 L508.1,766.3 L506.8,772.7 L502.5,767.8 L498.2,772.7 L496.9,766.3 L490.6,768.4 L492.7,762.1 L486.3,760.8 L491.2,756.5 L486.3,752.2 L492.7,750.9 L490.6,744.6 L496.9,746.7Z" fill="#f99d25" stroke="#f99d25" stroke-width="1.4" stroke-linejoin="round"/>
<rect x="1012.5" y="773.6" width="16.5" height="37.0" rx="3" fill="#2d84c3"/>
<rect x="1010.0" y="756.3" width="21.9" height="22.3" rx="2.5" fill="#2d84c3"/>
<circle cx="1020.7" cy="746.6" r="8.4" fill="#2d84c3"/>
<path d="M1019.0,756.3 L1022.6,756.3 L1021.5,760.1 L1024.1,773.7 L1020.7,778.6 L1017.3,773.7 L1019.9,760.1Z" fill="#f99d25"/>
<rect x="1046.9" y="767.3" width="20.4" height="43.3" rx="3" fill="#3a9cda"/>
<rect x="1044.0" y="745.6" width="26.2" height="26.7" rx="2.5" fill="#3a9cda"/>
<circle cx="1057" cy="734" r="10.2" fill="#3a9cda"/>
<path d="M1054.7,745.6 L1059.5,745.6 L1058.3,751.4 L1061.4,766.0 L1057.1,772.3 L1053.0,766.0 L1055.9,751.4Z" fill="#f99d25"/>
<rect x="1082.8" y="761.0" width="25.2" height="49.6" rx="3" fill="#76c7f8"/>
<rect x="1078.9" y="734.4" width="32.5" height="31.6" rx="2.5" fill="#76c7f8"/>
<circle cx="1095.4" cy="721.3" r="12.6" fill="#76c7f8"/>
<path d="M1092.0,734.4 L1098.8,734.4 L1096.9,740.7 L1100.7,758.2 L1095.4,766.0 L1090.1,758.2 L1093.9,740.7Z" fill="#f99d25"/>
<path d="M474,1477 L492,1482" stroke="#3a9cda" stroke-width="7" stroke-linecap="round"/>
<path d="M510,1479 L519,1491" stroke="#3a9cda" stroke-width="7" stroke-linecap="round"/>
<path d="M434.6,1478.7 L462,1487" stroke="#f99d25" stroke-width="7.9" stroke-linecap="round"/>
<path d="M480,1484 L491,1490" stroke="#f99d25" stroke-width="7" stroke-linecap="round"/>
<rect x="459.5" y="1481.9" width="24.1" height="72.4" rx="4" fill="#f99d25"/>
<circle cx="471.4" cy="1469.4" r="11.9" fill="#f99d25"/>
<rect x="488.4" y="1476.8" width="24.6" height="73.0" rx="4" fill="#3a9cda"/>
<circle cx="500.8" cy="1464.3" r="11.9" fill="#3a9cda"/>
<path d="M540,1486 L558,1507.3" stroke="#76c7f8" stroke-width="7.9" stroke-linecap="round"/>
<path d="M514,1485 L521,1490" stroke="#76c7f8" stroke-width="7" stroke-linecap="round"/>
<rect x="517.8" y="1481.9" width="24.3" height="72.4" rx="4" fill="#76c7f8"/>
<circle cx="529.7" cy="1469.4" r="11.9" fill="#76c7f8"/>
<path d="M1020.4,1554.5 L1020.4,1505.0 L1061.6,1462.0 L1102.6,1505.0 L1102.6,1554.5Z" fill="#76c7f8"/>
<path d="M1015,1504 L1061.6,1458.4 L1108.1,1504" fill="none" stroke="#f99d25" stroke-width="10.7" stroke-linecap="round" stroke-linejoin="round"/>
<circle cx="1061.6" cy="1493.8" r="7.3" fill="#3a9cda"/>
<path d="M1034.9,1554.5 L1034.9,1528.1 A12.05,12.05 0 0 1 1059,1528.1 L1059,1554.5Z" fill="#3a9cda"/>
<rect x="1069.0" y="1519.0" width="9.7" height="9.7" rx="2" fill="#3a9cda"/>
<rect x="1069.0" y="1533.9" width="9.7" height="9.7" rx="2" fill="#3a9cda"/>
<rect x="1084.2" y="1519.0" width="9.7" height="9.7" rx="2" fill="#3a9cda"/>
<rect x="1084.2" y="1533.9" width="9.7" height="9.7" rx="2" fill="#3a9cda"/>
<ellipse cx="502.7" cy="2163" rx="41.1" ry="31.8" fill="#76c7f8"/>
<path d="M481.1,2093.3 L523.8,2093.3 L522.0,2103.1 L533.6,2103.6 L526.0,2129.8 L480.7,2129.8 L471.3,2103.6 L482.9,2103.1Z" fill="#2d84c3" stroke="#2d84c3" stroke-width="1.2" stroke-linejoin="round"/>
<rect x="476.7" y="2127.3" width="52.0" height="4.2" rx="2" fill="#2d84c3"/>
<ellipse cx="502.5" cy="2160.7" rx="21.8" ry="19.3" fill="#f99d25"/>
<text x="502.9" y="2169.5" font-family="Liberation Sans" font-weight="bold" font-size="26" fill="#3a9cda" text-anchor="middle">$</text>
</svg>
<svg style="left:0;top:0" width="1250" height="2604" viewBox="0 0 1250 2604">
<g font-family="Liberation Sans" font-size="37" fill="#f99a20" stroke="#f99a20" stroke-width="1.0" stroke-linejoin="round"><text transform="translate(880.6,339.2) rotate(-79.0)" x="0" y="12.7" text-anchor="middle">O</text><text transform="translate(892.0,304.9) rotate(-64.1)" x="0" y="12.7" text-anchor="middle">V</text><text transform="translate(906.5,281.3) rotate(-52.8)" x="0" y="12.7" text-anchor="middle">E</text><text transform="translate(926.5,260.0) rotate(-40.8)" x="0" y="12.7" text-anchor="middle">R</text><text transform="translate(954.0,241.5) rotate(-27.2)" x="0" y="12.7" text-anchor="middle">A</text><text transform="translate(982.0,230.7) rotate(-14.9)" x="0" y="12.7" text-anchor="middle">L</text><text transform="translate(1008.0,226.4) rotate(-4.1)" x="0" y="12.7" text-anchor="middle">L</text><text transform="translate(1051.4,230.0) rotate(13.8)" x="0" y="12.7" text-anchor="middle">R</text><text transform="translate(1079.2,240.1) rotate(25.9)" x="0" y="12.7" text-anchor="middle">A</text><text transform="translate(1109.6,260.1) rotate(40.8)" x="0" y="12.7" text-anchor="middle">N</text><text transform="translate(1131.4,284.0) rotate(54.1)" x="0" y="12.7" text-anchor="middle">K</text><text transform="translate(1143.5,303.9) rotate(63.7)" x="0" y="12.7" text-anchor="middle">I</text><text transform="translate(1152.1,325.6) rotate(73.2)" x="0" y="12.7" text-anchor="middle">N</text><text transform="translate(1157.9,361.7) rotate(88.2)" x="0" y="12.7" text-anchor="middle">G</text></g>
<g font-family="Liberation Sans" font-size="37" fill="#f99a20" stroke="#f99a20" stroke-width="1.0" stroke-linejoin="round"><text transform="translate(904.4,447.9) rotate(54.2)" x="0" y="12.7" text-anchor="middle">O</text><text transform="translate(928.9,473.9) rotate(39.5)" x="0" y="12.7" text-anchor="middle">U</text><text transform="translate(956.8,491.9) rotate(25.9)" x="0" y="12.7" text-anchor="middle">T</text><text transform="translate(1002.9,505.2) rotate(6.2)" x="0" y="12.7" text-anchor="middle">O</text><text transform="translate(1034.8,505.0) rotate(-6.9)" x="0" y="12.7" text-anchor="middle">F</text><text transform="translate(1079.6,491.7) rotate(-26.1)" x="0" y="12.7" text-anchor="middle">4</text><text transform="translate(1104.9,475.7) rotate(-38.4)" x="0" y="12.7" text-anchor="middle">6</text></g>
<path d="M872.1,386.1 L875.8,401.8 M1142.6,441.8 L1149.8,427.3" stroke="#f99a20" stroke-width="3" stroke-linecap="round"/>
<g transform="rotate(6.5 974 369.7)">
<path d="M922.6,344.1 C924.2,343.3 928.3,340.4 932.0,339.4 C935.7,338.3 940.8,337.7 944.9,337.7 C949.0,337.8 953.3,338.5 956.6,339.7 C959.9,340.8 962.7,342.6 964.7,344.7 C966.8,346.9 968.5,349.9 968.9,352.5 C969.3,355.2 968.8,357.9 967.1,360.4 C965.4,362.9 962.6,365.2 958.9,367.6 C955.2,370.1 949.4,372.4 944.9,374.9 C940.4,377.4 935.3,380.1 932.0,382.7 C928.7,385.3 926.6,387.9 925.0,390.5 C923.3,393.1 922.6,396.6 922.0,398.3 C921.4,400.1 921.5,400.7 921.5,401.1 M921.45,401.15 L969.45,401.15" fill="none" stroke="#f99a20" stroke-width="12.5" stroke-linecap="round" stroke-linejoin="round"/>
<path d="M987.6,344.1 C989.2,343.3 993.3,340.4 997.0,339.4 C1000.7,338.3 1005.8,337.7 1009.9,337.7 C1014.0,337.8 1018.3,338.5 1021.6,339.7 C1024.9,340.8 1027.7,342.6 1029.7,344.7 C1031.8,346.9 1033.5,349.9 1033.9,352.5 C1034.3,355.2 1033.8,357.9 1032.1,360.4 C1030.4,362.9 1027.6,365.2 1023.9,367.6 C1020.2,370.1 1014.4,372.4 1009.9,374.9 C1005.4,377.4 1000.3,380.1 997.0,382.7 C993.7,385.3 991.6,387.9 990.0,390.5 C988.3,393.1 987.6,396.6 987.0,398.3 C986.4,400.1 986.5,400.7 986.5,401.1 M986.45,401.15 L1034.45,401.15" fill="none" stroke="#f99a20" stroke-width="12.5" stroke-linecap="round" stroke-linejoin="round"/>
<path d="M1054.10,344.60 L1054.10,367.10 M1054.1,354.1 C1054.7,352.9 1056.2,348.4 1057.8,346.9 C1059.4,345.3 1061.9,344.6 1063.9,344.6 C1065.8,344.6 1068.4,345.4 1069.7,346.9 C1071.1,348.4 1071.5,352.5 1071.9,353.6 M1071.90,353.60 L1071.90,367.10" fill="none" stroke="#f99a20" stroke-width="8.2" stroke-linecap="round" stroke-linejoin="round"/>
<path d="M1084.60,355.74 A11.40,11.36 0 1 0 1107.40,355.74 A11.40,11.36 0 1 0 1084.60,355.74Z M1107.40,331.60 L1107.40,367.10" fill="none" stroke="#f99a20" stroke-width="8.2" stroke-linecap="round" stroke-linejoin="round"/>
</g>
<g font-family="Liberation Sans" font-size="38.5" fill="#2d96da" stroke="#fff" stroke-width="0.9"><text transform="translate(865.6,2230.5) rotate(-72.3)" x="0" y="13.2" text-anchor="middle">G</text><text transform="translate(878.8,2201.3) rotate(-59.2)" x="0" y="13.2" text-anchor="middle">E</text><text transform="translate(896.5,2177.6) rotate(-47.1)" x="0" y="13.2" text-anchor="middle">N</text><text transform="translate(919.0,2158.1) rotate(-34.8)" x="0" y="13.2" text-anchor="middle">E</text><text transform="translate(944.8,2143.9) rotate(-22.8)" x="0" y="13.2" text-anchor="middle">R</text><text transform="translate(972.9,2135.5) rotate(-10.8)" x="0" y="13.2" text-anchor="middle">A</text><text transform="translate(1000.4,2133.0) rotate(0.6)" x="0" y="13.2" text-anchor="middle">L</text><text transform="translate(1048.6,2142.1) rotate(20.7)" x="0" y="13.2" text-anchor="middle">H</text><text transform="translate(1073.3,2154.3) rotate(32.0)" x="0" y="13.2" text-anchor="middle">A</text><text transform="translate(1094.6,2170.7) rotate(43.1)" x="0" y="13.2" text-anchor="middle">P</text><text transform="translate(1113.9,2193.0) rotate(55.1)" x="0" y="13.2" text-anchor="middle">P</text><text transform="translate(1126.7,2215.5) rotate(65.8)" x="0" y="13.2" text-anchor="middle">I</text><text transform="translate(1135.7,2242.8) rotate(77.5)" x="0" y="13.2" text-anchor="middle">N</text><text transform="translate(1139.0,2273.2) rotate(90.1)" x="0" y="13.2" text-anchor="middle">E</text><text transform="translate(1135.7,2303.2) rotate(102.5)" x="0" y="13.2" text-anchor="middle">S</text><text transform="translate(1127.8,2327.9) rotate(113.1)" x="0" y="13.2" text-anchor="middle">S</text></g>
<g font-family="Liberation Sans" font-size="38.5" fill="#2d96da" stroke="#fff" stroke-width="0.9"><text transform="translate(872.5,2333.0) rotate(64.6)" x="0" y="13.2" text-anchor="middle">O</text><text transform="translate(891.7,2362.9) rotate(50.0)" x="0" y="13.2" text-anchor="middle">U</text><text transform="translate(912.5,2383.1) rotate(38.2)" x="0" y="13.2" text-anchor="middle">T</text><text transform="translate(958.6,2407.0) rotate(16.8)" x="0" y="13.2" text-anchor="middle">O</text><text transform="translate(989.1,2412.6) rotate(4.1)" x="0" y="13.2" text-anchor="middle">F</text><text transform="translate(1033.6,2408.7) rotate(-14.3)" x="0" y="13.2" text-anchor="middle">4</text><text transform="translate(1062.6,2397.7) rotate(-27.0)" x="0" y="13.2" text-anchor="middle">6</text></g>
<path d="M853,2282 L853.6,2297 M1096,2382 L1103,2373" stroke="#3a9cdc" stroke-width="2.2" stroke-linecap="round"/>
<g transform="rotate(19 964.5 2265.8)">
<path d="M909.0,2239.2 C910.6,2238.4 914.8,2235.4 918.6,2234.2 C922.4,2233.1 927.5,2232.5 931.7,2232.5 C935.9,2232.6 940.3,2233.4 943.6,2234.6 C947.0,2235.8 949.9,2237.6 952.0,2239.8 C954.0,2242.1 955.8,2245.3 956.2,2248.0 C956.6,2250.7 956.0,2253.5 954.4,2256.2 C952.7,2258.8 949.8,2261.2 946.0,2263.7 C942.2,2266.2 936.3,2268.7 931.7,2271.3 C927.1,2273.9 922.0,2276.7 918.6,2279.5 C915.2,2282.2 913.1,2284.8 911.4,2287.6 C909.7,2290.3 909.0,2293.9 908.4,2295.7 C907.8,2297.6 907.9,2298.2 907.9,2298.7 M907.85,2298.65 L956.75,2298.65" fill="none" stroke="#3a9cdc" stroke-width="12.5" stroke-linecap="round" stroke-linejoin="round"/>
<path d="M975.25,2265.60 A26.75,33.05 0 1 0 1028.75,2265.60 A26.75,33.05 0 1 0 975.25,2265.60Z" fill="none" stroke="#3a9cdc" stroke-width="12.5" stroke-linecap="round" stroke-linejoin="round"/>
<path d="M1051.72,2232.60 L1051.72,2265.20 M1045.80,2243.85 L1058.10,2243.85" fill="none" stroke="#3a9cdc" stroke-width="8.2" stroke-linecap="round" stroke-linejoin="round"/>
<path d="M1068.30,2228.80 L1068.30,2265.20 M1068.3,2253.2 C1068.9,2252.0 1070.3,2247.9 1071.9,2246.3 C1073.5,2244.6 1075.8,2243.4 1077.8,2243.4 C1079.7,2243.4 1082.2,2244.6 1083.5,2246.3 C1084.8,2247.9 1085.3,2252.0 1085.6,2253.2 M1085.60,2253.15 L1085.60,2265.20" fill="none" stroke="#3a9cdc" stroke-width="8.2" stroke-linecap="round" stroke-linejoin="round"/>
</g>
</svg>
<svg style="left:0;top:0" width="1250" height="2604" viewBox="0 0 1250 2604">
<path d="M127.5,884.3 C129.0,883.5 133.0,880.6 136.5,879.5 C140.1,878.4 145.0,877.8 148.9,877.8 C152.9,877.9 157.0,878.6 160.2,879.8 C163.4,881.0 166.1,882.7 168.1,884.9 C170.1,887.1 171.7,890.2 172.1,892.8 C172.5,895.5 172.0,898.2 170.4,900.8 C168.8,903.3 166.0,905.7 162.5,908.1 C158.9,910.6 153.3,912.9 148.9,915.5 C144.6,918.0 139.7,920.8 136.5,923.4 C133.3,926.0 131.3,928.6 129.7,931.3 C128.1,933.9 127.5,937.4 126.9,939.2 C126.3,941.0 126.4,941.6 126.3,942.0 M126.35,942.05 L172.65,942.05" fill="none" stroke="#f99d25" stroke-width="12.5" stroke-linecap="round" stroke-linejoin="round"/>
<path d="M191.45,878.65 L240.05,878.65 M240.1,878.6 C238.3,881.0 232.4,888.1 229.3,892.8 C226.2,897.4 223.5,901.9 221.4,906.4 C219.3,910.9 217.9,915.6 216.9,919.9 C215.9,924.3 215.7,928.6 215.4,932.4 C215.1,936.2 215.2,940.9 215.2,942.5" fill="none" stroke="#f99d25" stroke-width="12.5" stroke-linecap="round" stroke-linejoin="round"/>
<path d="M281.20,873.85 L281.20,907.05 M273.65,885.30 L289.35,885.30" fill="none" stroke="#f99d25" stroke-width="7.9" stroke-linecap="round" stroke-linejoin="round"/>
<path d="M301.75,870.95 L301.75,907.05 M301.8,895.1 C302.5,894.0 304.1,889.9 306.0,888.3 C307.8,886.7 310.6,885.4 312.9,885.4 C315.1,885.4 318.1,886.7 319.6,888.3 C321.1,889.9 321.6,894.0 322.1,895.1 M322.05,895.10 L322.05,907.05" fill="none" stroke="#f99d25" stroke-width="7.9" stroke-linecap="round" stroke-linejoin="round"/>
<path d="M721.46,941.75 L721.46,877.05 L680.05,922.28 L736.85,922.28" fill="none" stroke="#f99d25" stroke-width="12.5" stroke-linecap="round" stroke-linejoin="round"/>
<path d="M754.81,872.95 L754.81,905.85 M747.45,884.30 L762.75,884.30" fill="none" stroke="#f99d25" stroke-width="7.9" stroke-linecap="round" stroke-linejoin="round"/>
<path d="M774.45,869.85 L774.45,905.85 M774.5,893.9 C775.2,892.8 776.8,888.7 778.7,887.1 C780.5,885.5 783.2,884.2 785.5,884.2 C787.7,884.2 790.6,885.5 792.1,887.1 C793.6,888.7 794.1,892.8 794.6,893.9 M794.55,893.93 L794.55,905.85" fill="none" stroke="#f99d25" stroke-width="7.9" stroke-linecap="round" stroke-linejoin="round"/>
<path d="M129.5,1625.3 C130.8,1624.8 134.5,1622.8 137.3,1622.1 C140.2,1621.4 142.8,1620.9 146.5,1621.2 C150.2,1621.4 156.1,1621.8 159.3,1623.6 C162.6,1625.4 165.2,1629.3 166.1,1632.1 C167.1,1635.0 166.4,1638.3 165.3,1640.7 C164.1,1643.1 162.0,1645.1 159.3,1646.7 C156.6,1648.2 152.4,1649.4 149.1,1650.1 C145.8,1650.8 141.3,1650.8 139.7,1650.9 M139.7,1650.9 C142.1,1651.0 149.8,1650.4 154.2,1651.3 C158.6,1652.2 163.3,1653.3 166.1,1656.1 C169.0,1658.9 170.9,1664.4 171.3,1668.1 C171.8,1671.8 170.7,1675.7 168.7,1678.4 C166.7,1681.1 163.2,1683.2 159.3,1684.4 C155.5,1685.5 150.2,1685.7 145.7,1685.5 C141.1,1685.2 135.8,1684.4 132.0,1682.9 C128.3,1681.3 124.7,1677.2 123.2,1676.1" fill="none" stroke="#f99d25" stroke-width="12.5" stroke-linecap="round" stroke-linejoin="round"/>
<path d="M232.36,1685.45 L232.36,1621.15 L190.95,1666.10 L247.75,1666.10" fill="none" stroke="#f99d25" stroke-width="12.5" stroke-linecap="round" stroke-linejoin="round"/>
<path d="M265.37,1617.15 L265.37,1650.05 M258.25,1628.50 L273.05,1628.50" fill="none" stroke="#f99d25" stroke-width="7.9" stroke-linecap="round" stroke-linejoin="round"/>
<path d="M285.05,1614.15 L285.05,1650.05 M285.1,1638.2 C285.7,1637.0 287.4,1633.0 289.2,1631.4 C291.1,1629.8 293.8,1628.5 296.0,1628.5 C298.2,1628.5 301.1,1629.8 302.6,1631.4 C304.1,1633.0 304.6,1637.0 305.1,1638.2 M305.05,1638.17 L305.05,1650.05" fill="none" stroke="#f99d25" stroke-width="7.9" stroke-linecap="round" stroke-linejoin="round"/>
<path d="M680.55,1627.70 L701.85,1621.25 L701.85,1685.75" fill="none" stroke="#f99d25" stroke-width="12.5" stroke-linecap="round" stroke-linejoin="round"/>
<path d="M727.35,1638.73 A23.90,17.48 0 1 0 775.15,1638.73 A23.90,17.48 0 1 0 727.35,1638.73Z M775.1,1634.2 C775.1,1636.5 776.0,1643.5 775.1,1648.3 C774.3,1653.2 772.8,1658.6 769.9,1663.2 C767.0,1667.9 762.6,1672.9 757.8,1676.4 C753.0,1679.9 744.8,1683.0 741.3,1684.5 C737.7,1686.0 737.5,1685.3 736.7,1685.4" fill="none" stroke="#f99d25" stroke-width="12.5" stroke-linecap="round" stroke-linejoin="round"/>
<path d="M797.06,1617.15 L797.06,1649.85 M789.75,1628.43 L804.95,1628.43" fill="none" stroke="#f99d25" stroke-width="7.9" stroke-linecap="round" stroke-linejoin="round"/>
<path d="M817.05,1614.15 L817.05,1649.85 M817.1,1638.0 C817.8,1636.9 819.4,1632.9 821.3,1631.3 C823.1,1629.7 825.9,1628.4 828.1,1628.4 C830.4,1628.4 833.3,1629.7 834.8,1631.3 C836.3,1632.9 836.8,1636.9 837.3,1638.0 M837.25,1638.03 L837.25,1649.85" fill="none" stroke="#f99d25" stroke-width="7.9" stroke-linecap="round" stroke-linejoin="round"/>
<path d="M131.2,2274.3 C132.5,2273.8 136.2,2271.8 139.0,2271.1 C141.9,2270.4 144.6,2269.9 148.3,2270.2 C152.0,2270.4 157.9,2270.8 161.2,2272.6 C164.5,2274.4 167.1,2278.3 168.1,2281.2 C169.1,2284.0 168.4,2287.3 167.2,2289.7 C166.1,2292.2 164.0,2294.1 161.2,2295.7 C158.5,2297.3 154.2,2298.4 150.9,2299.1 C147.6,2299.8 143.0,2299.8 141.5,2300.0 M141.5,2300.0 C143.9,2300.0 151.6,2299.5 156.1,2300.4 C160.5,2301.2 165.2,2302.4 168.1,2305.2 C171.0,2308.0 172.9,2313.4 173.3,2317.2 C173.8,2320.9 172.7,2324.8 170.7,2327.5 C168.7,2330.2 165.1,2332.3 161.2,2333.5 C157.4,2334.6 152.1,2334.8 147.5,2334.6 C142.9,2334.3 137.5,2333.5 133.7,2332.0 C129.9,2330.4 126.3,2326.3 124.8,2325.1" fill="none" stroke="#f99d25" stroke-width="12.5" stroke-linecap="round" stroke-linejoin="round"/>
<path d="M233.48,2334.55 L233.48,2270.15 L191.85,2315.17 L248.95,2315.17" fill="none" stroke="#f99d25" stroke-width="12.5" stroke-linecap="round" stroke-linejoin="round"/>
<path d="M267.01,2265.85 L267.01,2299.05 M259.65,2277.30 L274.95,2277.30" fill="none" stroke="#f99d25" stroke-width="7.9" stroke-linecap="round" stroke-linejoin="round"/>
<path d="M285.95,2262.75 L285.95,2299.05 M285.9,2287.0 C286.7,2285.9 288.3,2281.8 290.2,2280.2 C292.0,2278.5 294.7,2277.3 297.0,2277.3 C299.2,2277.3 302.1,2278.5 303.6,2280.2 C305.1,2281.8 305.6,2285.9 306.1,2287.0 M306.05,2287.03 L306.05,2299.05" fill="none" stroke="#f99d25" stroke-width="7.9" stroke-linecap="round" stroke-linejoin="round"/>
</svg>
</body></html>
